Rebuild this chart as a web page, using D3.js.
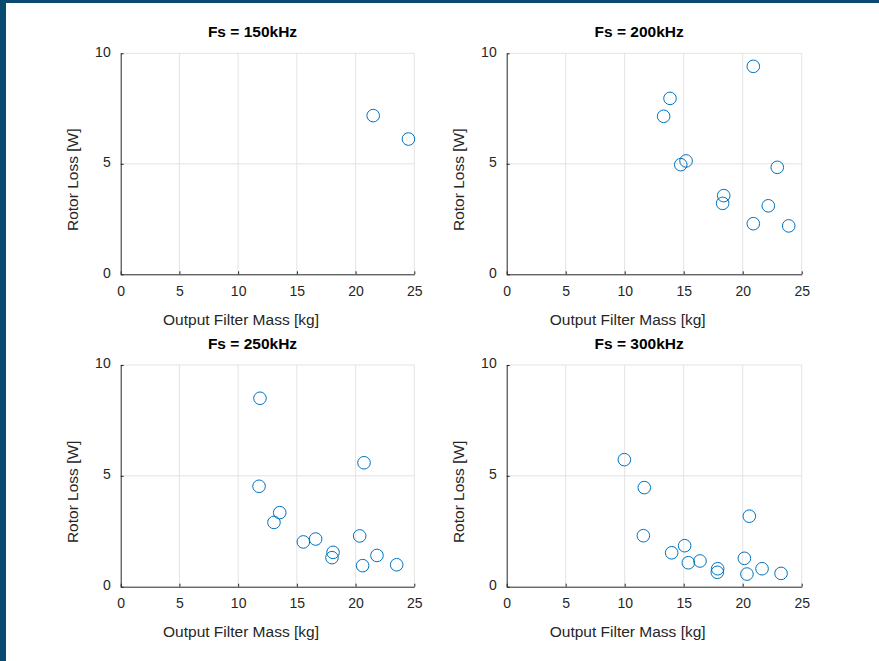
<!DOCTYPE html>
<html>
<head>
<meta charset="utf-8">
<script src="https://cdn.jsdelivr.net/npm/d3@7"></script>
<style>
  html, body { margin: 0; padding: 0; background: #fff; }
  svg { display: block; font-family: "Liberation Sans", Arial, sans-serif; }
</style>
</head>
<body>
<svg id="chart" width="879" height="661"></svg>
<script>
// Data
const titles = ['Fs = 150kHz', 'Fs = 200kHz', 'Fs = 250kHz', 'Fs = 300kHz']
const xTicks = [0, 5, 10, 15, 20, 25]
const yTicks = [0, 5, 10]

const mass150 = [21.5, 24.5]
const loss150 = [7.18, 6.12]

const mass200 = [20.9, 13.84, 13.3, 14.75, 15.2, 22.93, 18.39, 18.3, 22.17, 20.9, 23.9]
const loss200 = [9.41, 7.96, 7.15, 4.96, 5.13, 4.84, 3.56, 3.21, 3.10, 2.29, 2.19]

const mass250 = [11.86, 20.72, 11.78, 13.54, 13.05, 15.55, 16.6, 20.35, 18.08, 17.99, 21.82, 20.6, 23.5]
const loss250 = [8.50, 5.59, 4.53, 3.34, 2.90, 2.02, 2.15, 2.29, 1.55, 1.31, 1.41, 0.95, 0.99]

const mass300 = [9.97, 11.66, 20.56, 11.58, 15.08, 13.98, 15.39, 16.38, 20.14, 17.88, 17.85, 21.64, 20.36, 23.25]
const loss300 = [5.73, 4.47, 3.18, 2.30, 1.85, 1.53, 1.08, 1.16, 1.28, 0.81, 0.65, 0.81, 0.57, 0.60]

const panels = [
    { title: titles[0], mass: mass150, loss: loss150, left: 120.7, right: 414.3, top: 53.3, bottom: 274.3 },
    { title: titles[1], mass: mass200, loss: loss200, left: 506.7, right: 801.7, top: 53.3, bottom: 274.3 },
    { title: titles[2], mass: mass250, loss: loss250, left: 120.7, right: 414.3, top: 365, bottom: 586.7 },
    { title: titles[3], mass: mass300, loss: loss300, left: 506.7, right: 801.7, top: 365, bottom: 586.7 }
]

const ink = '#262626'
const gridColor = '#e3e3e3'
const markerColor = '#0072BD'

const svg = d3.select('#chart')

// window frame (dark blue strips on left and top)
svg.append('rect').attr('x', 0).attr('y', 0).attr('width', 879).attr('height', 3).attr('fill', '#0b4a70')
svg.append('rect').attr('x', 0).attr('y', 0).attr('width', 6).attr('height', 661).attr('fill', '#0b4a70')

panels.forEach(panel => {
    const x = d3.scaleLinear().domain([0, 25]).range([panel.left, panel.right])
    const y = d3.scaleLinear().domain([0, 10]).range([panel.bottom, panel.top])
    const g = svg.append('g').attr('class', 'panel')

    // Grid
    g.append('g').selectAll('line.vgrid')
        .data(xTicks.slice(1))
        .join('line')
        .attr('x1', d => x(d)).attr('x2', d => x(d))
        .attr('y1', y(0)).attr('y2', y(10))
        .attr('stroke', gridColor).attr('stroke-width', 1)
    g.append('g').selectAll('line.hgrid')
        .data(yTicks.slice(1))
        .join('line')
        .attr('x1', x(0)).attr('x2', x(25))
        .attr('y1', d => y(d)).attr('y2', d => y(d))
        .attr('stroke', gridColor).attr('stroke-width', 1)

    // Axes
    const xAxis = d3.axisBottom(x).tickValues(xTicks).tickSizeInner(-3).tickSizeOuter(0).tickPadding(8)
    const yAxis = d3.axisLeft(y).tickValues(yTicks).tickSizeInner(-3).tickSizeOuter(0).tickPadding(10)

    const gx = g.append('g').attr('transform', `translate(0,${y(0)})`).call(xAxis)
    const gy = g.append('g').attr('transform', `translate(${x(0)},0)`).call(yAxis)
    ;[gx, gy].forEach(a => {
        a.select('.domain').attr('stroke', ink).attr('stroke-width', 1)
        a.selectAll('.tick line').attr('stroke', ink)
        a.selectAll('.tick text').attr('fill', ink).style('font-size', '14px')
    })
    gx.selectAll('.tick text').attr('dy', '0.95em')
    gy.selectAll('.tick text').attr('dy', '0.2em')

    // Markers
    g.append('g').selectAll('circle')
        .data(panel.mass.map((m, i) => [m, panel.loss[i]]))
        .join('circle')
        .attr('cx', d => x(d[0]))
        .attr('cy', d => y(d[1]))
        .attr('r', 6.3)
        .attr('fill', 'none')
        .attr('stroke', markerColor)
        .attr('stroke-width', 1)

    // Labels
    const cx = (panel.left + panel.right) / 2
    const cy = (panel.top + panel.bottom) / 2
    g.append('text')
        .attr('x', cx - 15).attr('y', panel.top - 16)
        .attr('text-anchor', 'middle')
        .attr('fill', '#000')
        .style('font-size', '15.5px').style('font-weight', 'bold')
        .text(panel.title)
    g.append('text')
        .attr('x', cx - 26.5).attr('y', panel.bottom + 50.5)
        .attr('text-anchor', 'middle')
        .attr('fill', ink)
        .style('font-size', '15.5px')
        .text('Output Filter Mass [kg]')
    g.append('text')
        .attr('transform', `translate(${panel.left - 43},${cy + 16}) rotate(-90)`)
        .attr('text-anchor', 'middle')
        .attr('fill', ink)
        .style('font-size', '15.5px')
        .text('Rotor Loss [W]')
})
</script>
</body>
</html>
